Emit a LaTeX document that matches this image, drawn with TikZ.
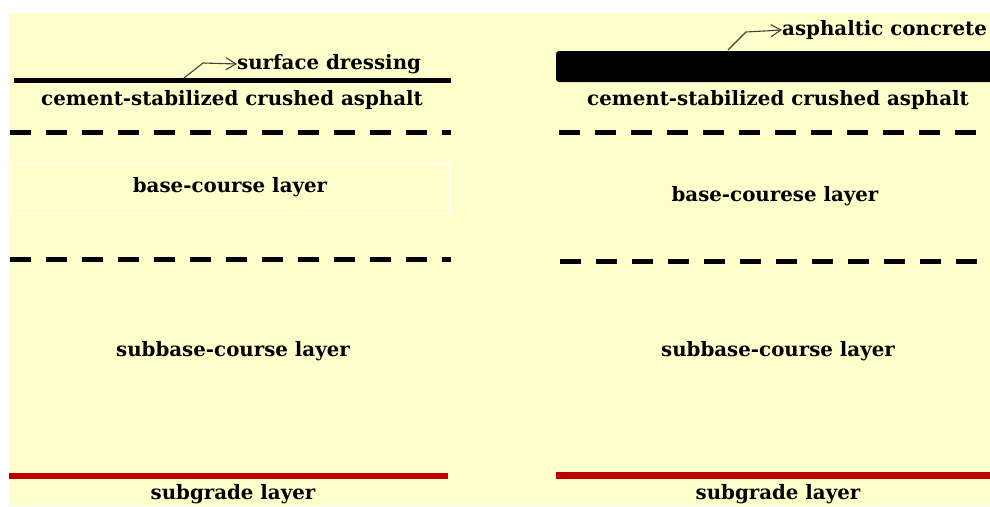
\documentclass[tikz,border=0pt]{standalone}
\usepackage{fontspec}
\setmainfont{DejaVu Serif}
\usetikzlibrary{arrows.meta}
\definecolor{bgyellow}{HTML}{FFFFCC}
\definecolor{subred}{HTML}{C00000}
\definecolor{faintbox}{HTML}{FFFFE6}
\tikzset{
  lbl/.style={font=\bfseries\fontsize{19.8}{20}\selectfont, inner sep=0pt},
  dashline/.style={line width=5pt, dash pattern=on 21pt off 15pt},
  solidline/.style={line width=5pt},
  redline/.style={line width=6pt, subred},
  pointer/.style={draw=black!75, line width=1.1pt, -{Straight Barb[length=10pt,width=12pt,line width=1.1pt]}}
}
\begin{document}
\begin{tikzpicture}[x=1pt,y=-1pt]
\useasboundingbox (0,0) rectangle (990,506);
\fill[white] (0,0) rectangle (990,506);
\fill[bgyellow] (9,13) rectangle (990,506);
% ---- left panel ----
\draw[solidline] (14,80) -- (451,80);
\coordinate (sdA) at (184,78);
\node[lbl, anchor=west] (sd) at (237,64) {surface dressing};
\draw[pointer] (sdA) -- (203,63) -- (sd.west);
\node[lbl] (csL) at (232,100) {cement-stabilized crushed asphalt};
\draw[dashline] (10,132) -- (451,132);
\draw[white, line width=0.8pt] (11,163) rectangle (450,213);
\node[lbl] (bcL) at (230,187) {base-course layer};
\draw[dashline] (10,259) -- (451,259);
\node[lbl] (sbL) at (233,351) {subbase-course layer};
\draw[redline] (9,476) -- (448,476);
\node[lbl] (sgL) at (233,494) {subgrade layer};
% ---- right panel ----
\fill[black, rounded corners=3pt] (556,51) rectangle (995,82);
\coordinate (acA) at (728,50);
\node[lbl, anchor=west] (ac) at (782,30) {asphaltic concrete};
\draw[pointer] (acA) -- (746,32) -- (ac.west);
\node[lbl] (csR) at (778,100) {cement-stabilized crushed asphalt};
\draw[dashline] (559,132) -- (990,132);
\draw[faintbox, line width=0.8pt] (557,170) rectangle (992,218);
\node[lbl] (bcR) at (775,196) {base-courese layer};
\draw[dashline] (560,261) -- (990,261);
\node[lbl] (sbR) at (778,351) {subbase-course layer};
\draw[redline, line width=7pt] (556,475) -- (990,475);
\node[lbl] (sgR) at (778,494) {subgrade layer};
\end{tikzpicture}
\end{document}
